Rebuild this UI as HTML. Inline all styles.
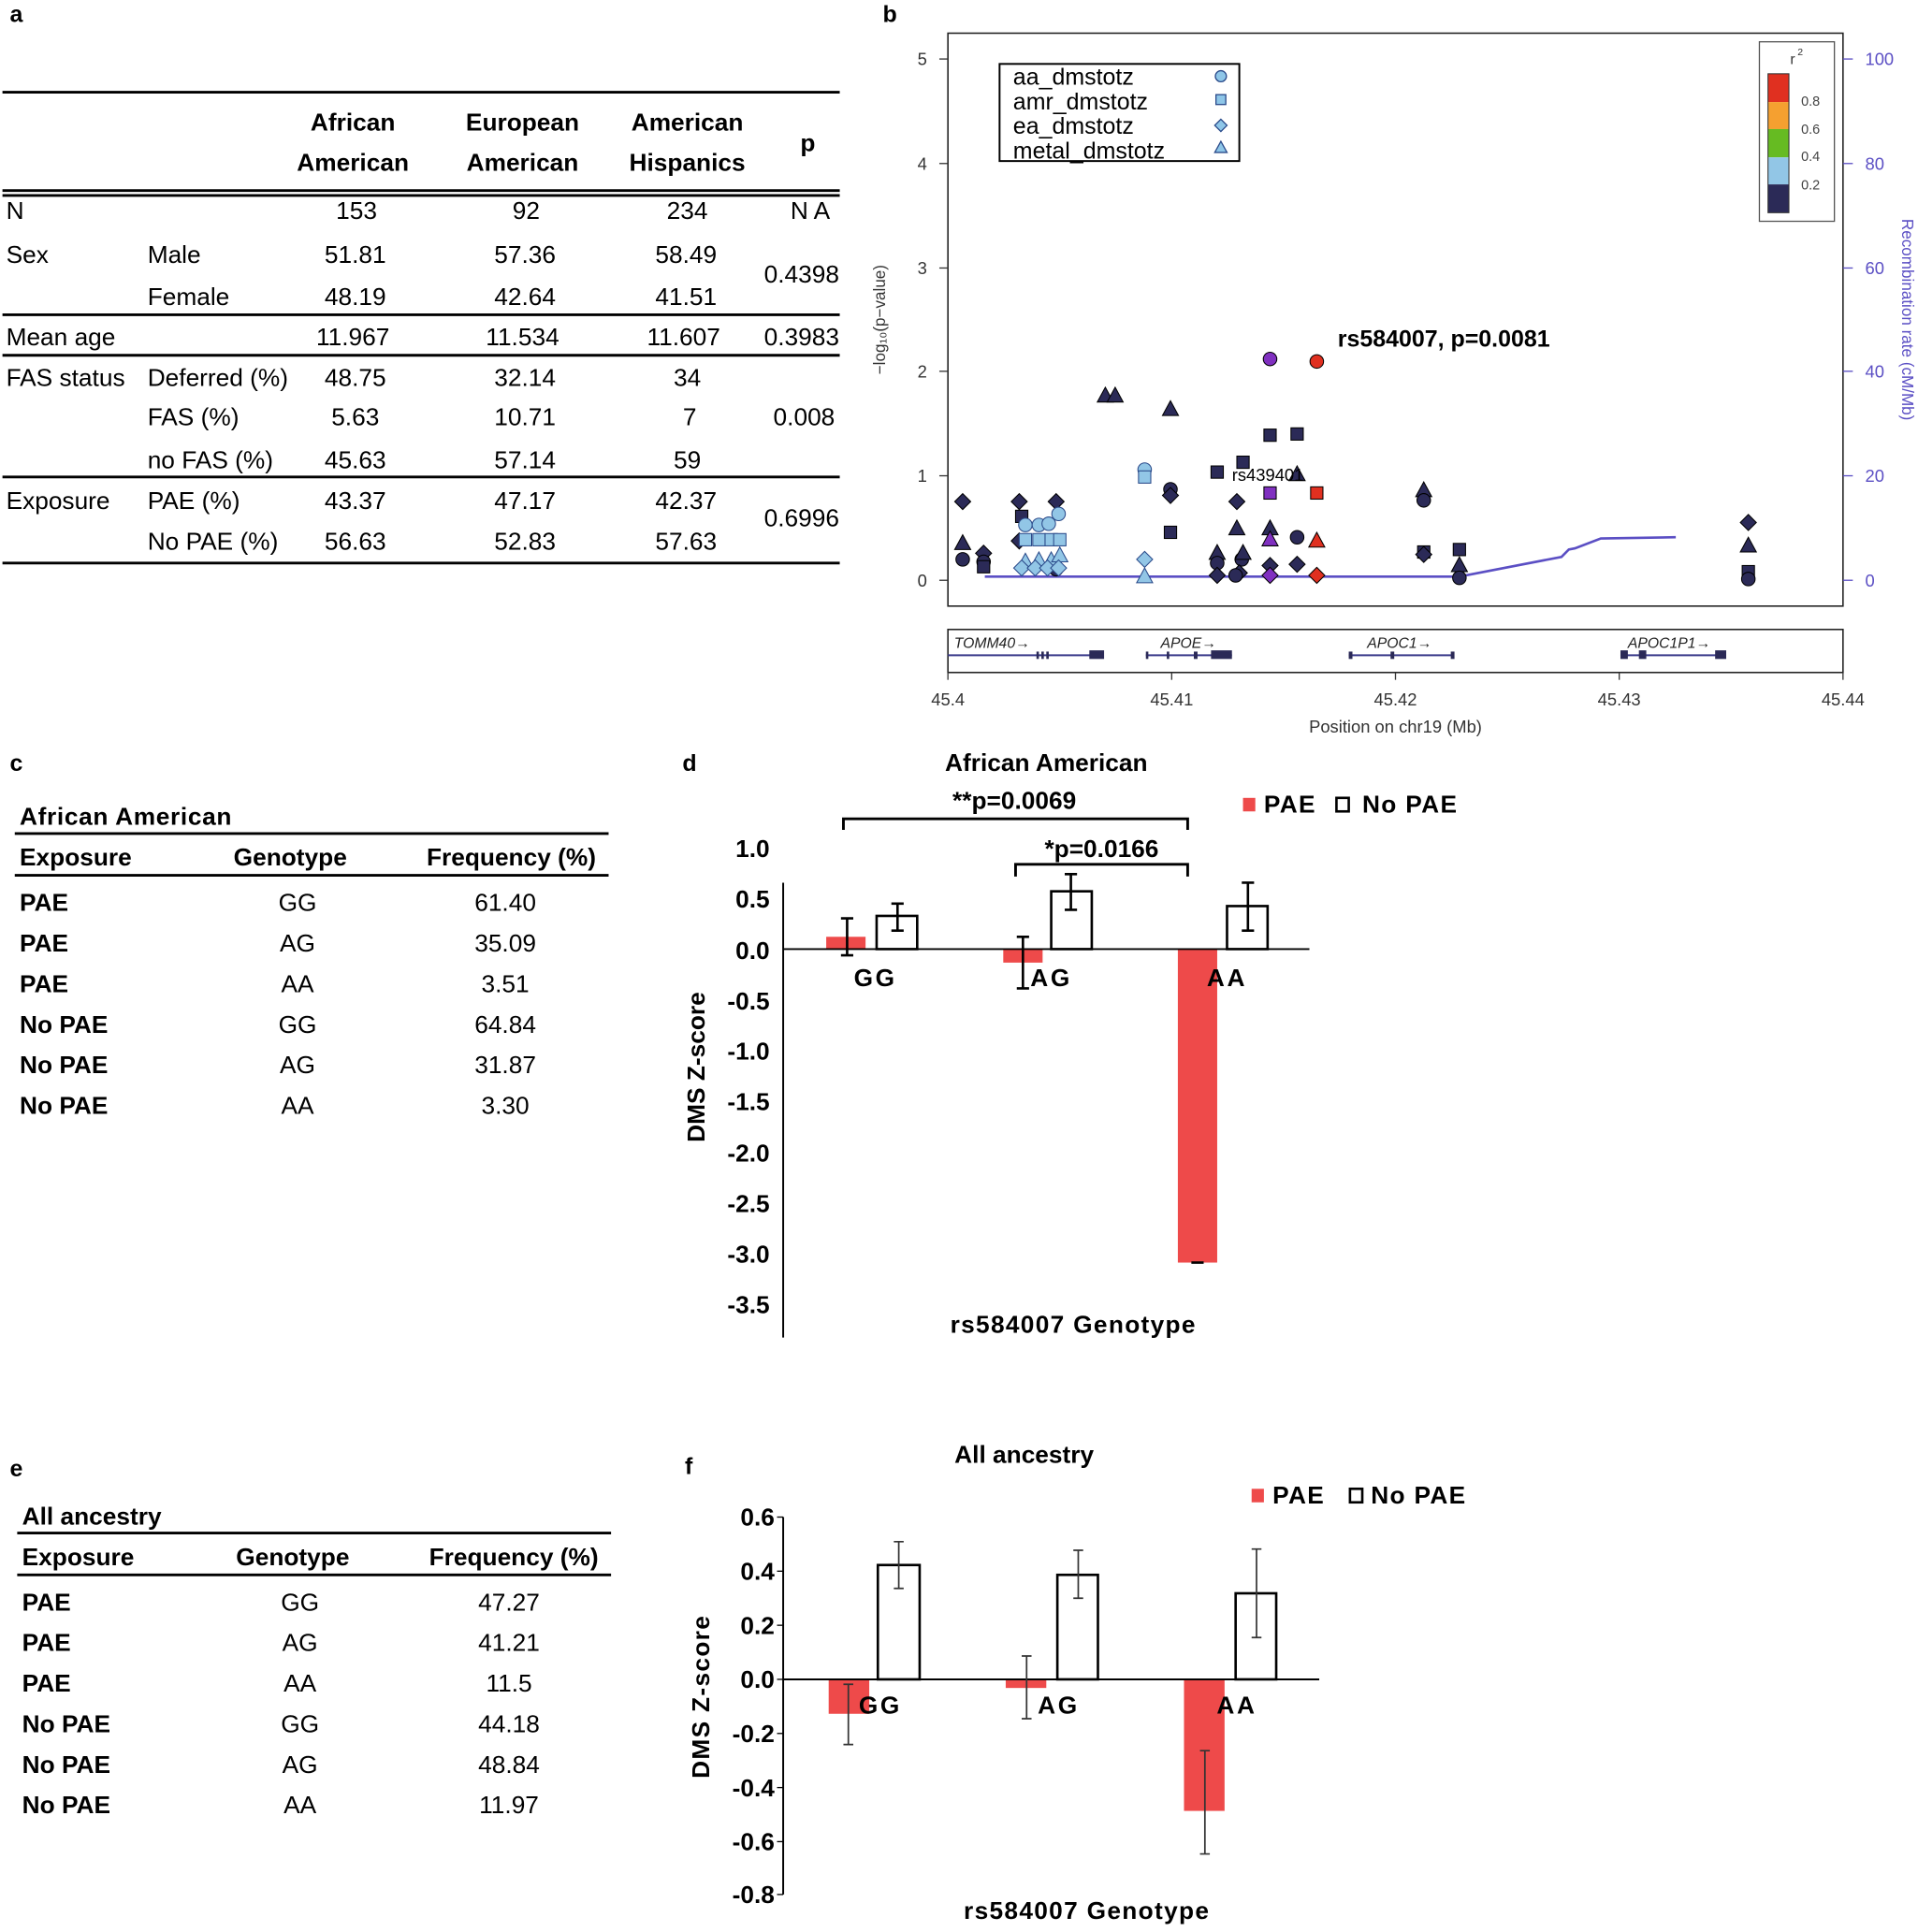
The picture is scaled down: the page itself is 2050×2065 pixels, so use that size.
<!DOCTYPE html>
<html><head><meta charset="utf-8"><style>
html,body{margin:0;padding:0;background:#fff;}
svg{display:block;}
text{font-family:"Liberation Sans",Arial,sans-serif;}
</style></head><body>
<svg width="2050" height="2065" viewBox="0 0 1560 1571.5" preserveAspectRatio="none" xmlns="http://www.w3.org/2000/svg">
<defs>
<circle id="c" r="5.5"/>
<rect id="s" x="-5" y="-5" width="10" height="10"/>
<path id="d" d="M0,-6.5 L6.5,0 L0,6.5 L-6.5,0Z"/>
<path id="t" d="M0,-7 L6.5,5 L-6.5,5Z"/>
</defs>

<!-- Panel labels -->
<g font-weight="bold" font-size="19">
<text x="8" y="18">a</text><text x="718" y="18">b</text>
<text x="8" y="627">c</text><text x="555" y="627">d</text>
<text x="8" y="1201">e</text><text x="557" y="1199">f</text>
</g>

<!-- Panel a -->
<g stroke="#000" stroke-width="2.2">
<line x1="2" y1="75" x2="683" y2="75"/>
<line x1="2" y1="155" x2="683" y2="155"/>
<line x1="2" y1="159" x2="683" y2="159"/>
<line x1="2" y1="256" x2="683" y2="256"/>
<line x1="2" y1="289" x2="683" y2="289"/>
<line x1="2" y1="388" x2="683" y2="388"/>
<line x1="2" y1="458" x2="683" y2="458"/>
</g>
<g font-size="20" font-weight="bold" text-anchor="middle">
<text x="287" y="106">African</text><text x="287" y="139">American</text>
<text x="425" y="106">European</text><text x="425" y="139">American</text>
<text x="559" y="106">American</text><text x="559" y="139">Hispanics</text>
<text x="657" y="123">p</text>
</g>
<g font-size="20">
<text x="5" y="178">N</text>
<text x="5" y="214">Sex</text><text x="120" y="214">Male</text><text x="120" y="248">Female</text>
<text x="5" y="281">Mean age</text>
<text x="5" y="314">FAS status</text><text x="120" y="314">Deferred (%)</text>
<text x="120" y="346">FAS (%)</text><text x="120" y="381">no FAS (%)</text>
<text x="5" y="414">Exposure</text><text x="120" y="414">PAE (%)</text><text x="120" y="447">No PAE (%)</text>
</g>
<g font-size="20" text-anchor="middle">
<text x="290" y="178">153</text><text x="428" y="178">92</text><text x="559" y="178">234</text><text x="659" y="178">N A</text>
<text x="289" y="214">51.81</text><text x="427" y="214">57.36</text><text x="558" y="214">58.49</text>
<text x="289" y="248">48.19</text><text x="427" y="248">42.64</text><text x="558" y="248">41.51</text>
<text x="652" y="230">0.4398</text>
<text x="287" y="281">11.967</text><text x="425" y="281">11.534</text><text x="556" y="281">11.607</text><text x="652" y="281">0.3983</text>
<text x="289" y="314">48.75</text><text x="427" y="314">32.14</text><text x="559" y="314">34</text>
<text x="289" y="346">5.63</text><text x="427" y="346">10.71</text><text x="561" y="346">7</text><text x="654" y="346">0.008</text>
<text x="289" y="381">45.63</text><text x="427" y="381">57.14</text><text x="559" y="381">59</text>
<text x="289" y="414">43.37</text><text x="427" y="414">47.17</text><text x="558" y="414">42.37</text>
<text x="289" y="447">56.63</text><text x="427" y="447">52.83</text><text x="558" y="447">57.63</text>
<text x="652" y="428">0.6996</text>
</g>

<!-- Panel b -->
<rect x="771" y="27" width="728" height="466" fill="none" stroke="#222" stroke-width="1.2"/>
<g stroke="#333" stroke-width="1">
<line x1="771" y1="48" x2="764" y2="48"/><line x1="771" y1="133" x2="764" y2="133"/>
<line x1="771" y1="218" x2="764" y2="218"/><line x1="771" y1="302" x2="764" y2="302"/>
<line x1="771" y1="387" x2="764" y2="387"/><line x1="771" y1="472" x2="764" y2="472"/>
</g>
<g font-size="14" fill="#333" text-anchor="end">
<text x="754" y="53">5</text><text x="754" y="138">4</text><text x="754" y="223">3</text>
<text x="754" y="307">2</text><text x="754" y="392">1</text><text x="754" y="477">0</text>
</g>
<text transform="translate(720,260) rotate(-90)" font-size="13" fill="#333" text-anchor="middle">−log₁₀(p−value)</text>
<g stroke="#5b4fc4" stroke-width="1">
<line x1="1499" y1="48" x2="1507" y2="48"/><line x1="1499" y1="133" x2="1507" y2="133"/>
<line x1="1499" y1="218" x2="1507" y2="218"/><line x1="1499" y1="302" x2="1507" y2="302"/>
<line x1="1499" y1="387" x2="1507" y2="387"/><line x1="1499" y1="472" x2="1507" y2="472"/>
</g>
<g font-size="14" fill="#5b4fc4">
<text x="1517" y="53">100</text><text x="1517" y="138">80</text><text x="1517" y="223">60</text>
<text x="1517" y="307">40</text><text x="1517" y="392">20</text><text x="1517" y="477">0</text>
</g>
<text transform="translate(1547,260) rotate(90)" font-size="13" fill="#5b4fc4" text-anchor="middle">Recombination rate (cM/Mb)</text>
<!-- legend -->
<rect x="813" y="52" width="195" height="79" fill="#fff" stroke="#000" stroke-width="1.5"/>
<g font-size="19" fill="#000">
<text x="824" y="69">aa_dmstotz</text><text x="824" y="89">amr_dmstotz</text>
<text x="824" y="109">ea_dmstotz</text><text x="824" y="129">metal_dmstotz</text>
</g>
<g fill="#8ec6e8" stroke="#2a4a8a" stroke-width="1">
<circle cx="993" cy="62" r="4.5"/><rect x="989" y="77" width="8" height="8"/>
<path d="M993,97 L998,102 L993,107 L988,102Z"/><path d="M993,115 L998,124 L988,124Z"/>
</g>
<!-- colorbar -->
<rect x="1431" y="34" width="61" height="146" fill="#fff" stroke="#555" stroke-width="1"/>
<text x="1456" y="52" font-size="12" fill="#333">r</text><text x="1462" y="45" font-size="8" fill="#333">2</text>
<rect x="1438" y="60" width="17" height="23" fill="#e03020"/>
<rect x="1438" y="83" width="17" height="22" fill="#f5a030"/>
<rect x="1438" y="105" width="17" height="23" fill="#66bb22"/>
<rect x="1438" y="128" width="17" height="22" fill="#92c6e6"/>
<rect x="1438" y="150" width="17" height="23" fill="#2b2a57"/>
<rect x="1438" y="60" width="17" height="113" fill="none" stroke="#333" stroke-width="0.8"/>
<g font-size="11" fill="#444">
<text x="1465" y="86">0.8</text><text x="1465" y="109">0.6</text><text x="1465" y="131">0.4</text><text x="1465" y="154">0.2</text>
</g>
<!-- recomb line -->
<polyline points="801,469 1187,469 1270,453 1276,447 1281,446 1302,438 1363,437" fill="none" stroke="#5b4fc4" stroke-width="2"/>
<!-- points -->
<g fill="#2b2a57" stroke="#000" stroke-width="0.8">
<use href="#d" x="783" y="408"/><use href="#t" x="783" y="442"/><use href="#c" x="783" y="455"/>
<use href="#d" x="800" y="450"/><use href="#c" x="800" y="457"/><use href="#s" x="800" y="461"/>
<use href="#d" x="829" y="408"/><use href="#s" x="831" y="420"/><use href="#d" x="829" y="440"/>
<use href="#d" x="859" y="408"/><use href="#c" x="859" y="463"/>
<use href="#t" x="899" y="322"/><use href="#t" x="907" y="322"/>
<use href="#t" x="952" y="333"/><use href="#c" x="952" y="398"/><use href="#d" x="952" y="403"/><use href="#s" x="952" y="433"/>
<use href="#s" x="990" y="384"/><use href="#t" x="990" y="450"/><use href="#c" x="990" y="458"/><use href="#d" x="990" y="468"/>
<use href="#d" x="1006" y="408"/><use href="#t" x="1006" y="430"/><use href="#c" x="1010" y="455"/><use href="#d" x="1008" y="466"/><use href="#c" x="1005" y="468"/>
<use href="#s" x="1011" y="376"/><use href="#t" x="1011" y="450"/>
<use href="#s" x="1033" y="354"/><use href="#t" x="1033" y="430"/><use href="#d" x="1033" y="460"/>
<use href="#s" x="1055" y="353"/><use href="#t" x="1055" y="386"/><use href="#c" x="1055" y="437"/><use href="#d" x="1055" y="459"/>
<use href="#t" x="1158" y="399"/><use href="#c" x="1158" y="407"/><use href="#s" x="1158" y="449"/><use href="#d" x="1158" y="451"/>
<use href="#s" x="1187" y="447"/><use href="#t" x="1187" y="460"/><use href="#c" x="1187" y="470"/>
<use href="#d" x="1422" y="425"/><use href="#t" x="1422" y="444"/><use href="#s" x="1422" y="465"/><use href="#c" x="1422" y="471"/>
</g>
<g fill="#92c6e6" stroke="#2a4a8a" stroke-width="0.8">
<use href="#c" x="834" y="427"/><use href="#c" x="845" y="427"/><use href="#c" x="853" y="426"/><use href="#c" x="861" y="418"/>
<use href="#s" x="834" y="439"/><use href="#s" x="845" y="439"/><use href="#s" x="855" y="439"/><use href="#s" x="862" y="439"/>
<use href="#t" x="834" y="457"/><use href="#t" x="845" y="456"/><use href="#t" x="855" y="456"/><use href="#t" x="862" y="452"/>
<use href="#d" x="831" y="462"/><use href="#d" x="842" y="462"/><use href="#d" x="852" y="462"/><use href="#d" x="861" y="462"/>
<use href="#c" x="931" y="382"/><use href="#s" x="931" y="388"/><use href="#d" x="931" y="455"/><use href="#t" x="931" y="469"/>
</g>
<g fill="#8030c0" stroke="#000" stroke-width="0.8">
<use href="#c" x="1033" y="292"/><use href="#s" x="1033" y="401"/><use href="#t" x="1033" y="439"/><use href="#d" x="1033" y="468"/>
</g>
<g fill="#e03020" stroke="#000" stroke-width="0.8">
<use href="#c" x="1071" y="294"/><use href="#s" x="1071" y="401"/><use href="#t" x="1071" y="440"/><use href="#d" x="1071" y="468"/>
</g>
<text x="1088" y="282" font-size="19" font-weight="bold">rs584007, p=0.0081</text>
<text x="1002" y="391" font-size="14">rs439401</text>
<!-- gene track -->
<rect x="771" y="512" width="728" height="35" fill="none" stroke="#222" stroke-width="1.2"/>
<g font-size="12" font-style="italic" fill="#222">
<text x="776" y="527">TOMM40→</text><text x="944" y="527">APOE→</text>
<text x="1112" y="527">APOC1→</text><text x="1324" y="527">APOC1P1→</text>
</g>
<g stroke="#3a3a8a" stroke-width="1.5">
<line x1="771" y1="533" x2="897" y2="533"/><line x1="932" y1="533" x2="1002" y2="533"/>
<line x1="1097" y1="533" x2="1182" y2="533"/><line x1="1318" y1="533" x2="1403" y2="533"/>
</g>
<g fill="#2b2a57">
<rect x="843" y="530" width="2" height="6"/><rect x="847" y="530" width="2" height="6"/><rect x="851" y="530" width="2" height="6"/>
<rect x="886" y="529" width="12" height="7"/>
<rect x="932" y="530" width="2" height="6"/><rect x="949" y="530" width="2" height="6"/><rect x="971" y="530" width="3" height="6"/>
<rect x="985" y="529" width="17" height="7"/>
<rect x="1097" y="530" width="3" height="6"/><rect x="1131" y="530" width="3" height="6"/><rect x="1180" y="530" width="3" height="6"/>
<rect x="1318" y="529" width="6" height="7"/><rect x="1333" y="529" width="6" height="7"/><rect x="1395" y="529" width="9" height="7"/>
</g>
<g stroke="#333" stroke-width="1">
<line x1="771" y1="547" x2="771" y2="553"/><line x1="953" y1="547" x2="953" y2="553"/>
<line x1="1135" y1="547" x2="1135" y2="553"/><line x1="1317" y1="547" x2="1317" y2="553"/><line x1="1499" y1="547" x2="1499" y2="553"/>
</g>
<g font-size="14" fill="#333" text-anchor="middle">
<text x="771" y="574">45.4</text><text x="953" y="574">45.41</text><text x="1135" y="574">45.42</text>
<text x="1317" y="574">45.43</text><text x="1499" y="574">45.44</text>
<text x="1135" y="596">Position on chr19 (Mb)</text>
</g>

<!-- Panel c -->
<text x="16" y="671" font-size="20" font-weight="bold" letter-spacing="0.5">African American</text>
<line x1="12" y1="678" x2="495" y2="678" stroke="#000" stroke-width="2.2"/>
<line x1="12" y1="712" x2="495" y2="712" stroke="#000" stroke-width="2.2"/>
<g font-size="20" font-weight="bold">
<text x="16" y="704">Exposure</text><text x="190" y="704">Genotype</text><text x="347" y="704">Frequency (%)</text>
<text x="16" y="741">PAE</text><text x="16" y="774">PAE</text><text x="16" y="807">PAE</text>
<text x="16" y="840">No PAE</text><text x="16" y="873">No PAE</text><text x="16" y="906">No PAE</text>
</g>
<g font-size="20" text-anchor="middle">
<text x="242" y="741">GG</text><text x="242" y="774">AG</text><text x="242" y="807">AA</text>
<text x="242" y="840">GG</text><text x="242" y="873">AG</text><text x="242" y="906">AA</text>
<text x="411" y="741">61.40</text><text x="411" y="774">35.09</text><text x="411" y="807">3.51</text>
<text x="411" y="840">64.84</text><text x="411" y="873">31.87</text><text x="411" y="906">3.30</text>
</g>

<!-- Panel d -->
<text x="851" y="627" font-size="20" font-weight="bold" text-anchor="middle">African American</text>
<text x="825" y="658" font-size="20" font-weight="bold" text-anchor="middle">**p=0.0069</text>
<text x="896" y="697" font-size="20" font-weight="bold" text-anchor="middle">*p=0.0166</text>
<g fill="none" stroke="#000" stroke-width="2.2">
<polyline points="686,675 686,666 966,666 966,675"/>
<polyline points="826,713 826,703 966,703 966,713"/>
</g>
<rect x="1011" y="649" width="10" height="11" fill="#ee4a4a"/>
<text x="1028" y="661" font-size="20" font-weight="bold" letter-spacing="1">PAE</text>
<rect x="1087" y="649" width="10" height="11" fill="#fff" stroke="#000" stroke-width="2"/>
<text x="1108" y="661" font-size="20" font-weight="bold" letter-spacing="1">No PAE</text>
<g font-size="20" font-weight="bold" text-anchor="end">
<text x="626" y="697">1.0</text><text x="626" y="738">0.5</text><text x="626" y="780">0.0</text>
<text x="626" y="821">-0.5</text><text x="626" y="862">-1.0</text><text x="626" y="903">-1.5</text>
<text x="626" y="945">-2.0</text><text x="626" y="986">-2.5</text><text x="626" y="1027">-3.0</text><text x="626" y="1068">-3.5</text>
</g>
<text transform="translate(573,868) rotate(-90)" font-size="20" font-weight="bold" text-anchor="middle">DMS  Z-score</text>
<line x1="637" y1="718" x2="637" y2="1088" stroke="#000" stroke-width="1.5"/>
<rect x="672" y="762" width="32" height="10" fill="#ee4a4a"/>
<rect x="713" y="745" width="33" height="27" fill="#fff" stroke="#000" stroke-width="2"/>
<rect x="816" y="772" width="32" height="11" fill="#ee4a4a"/>
<rect x="855" y="725" width="33" height="47" fill="#fff" stroke="#000" stroke-width="2"/>
<rect x="958" y="772" width="32" height="255" fill="#ee4a4a"/>
<rect x="998" y="737" width="33" height="35" fill="#fff" stroke="#000" stroke-width="2"/>
<line x1="637" y1="772" x2="1065" y2="772" stroke="#000" stroke-width="1.5"/>
<g stroke="#000" stroke-width="2">
<path d="M689,747 V777 M684,747 H694 M684,777 H694"/>
<path d="M730,735 V757 M725,735 H735 M725,757 H735"/>
<path d="M832,762 V804 M827,762 H837 M827,804 H837"/>
<path d="M871,711 V740 M866,711 H876 M866,740 H876"/>
<path d="M1015,718 V757 M1010,718 H1020 M1010,757 H1020"/>
<path d="M969,1027 H979"/>
</g>
<g font-size="20" font-weight="bold" letter-spacing="2" text-anchor="middle">
<text x="712" y="802">GG</text><text x="855" y="802">AG</text><text x="998" y="802">AA</text>
</g>
<text x="873" y="1084" font-size="20" font-weight="bold" text-anchor="middle" letter-spacing="1">rs584007 Genotype</text>

<!-- Panel e -->
<text x="18" y="1240" font-size="20" font-weight="bold">All ancestry</text>
<line x1="14" y1="1247" x2="497" y2="1247" stroke="#000" stroke-width="2.2"/>
<line x1="14" y1="1281" x2="497" y2="1281" stroke="#000" stroke-width="2.2"/>
<g font-size="20" font-weight="bold">
<text x="18" y="1273">Exposure</text><text x="192" y="1273">Genotype</text><text x="349" y="1273">Frequency (%)</text>
<text x="18" y="1310">PAE</text><text x="18" y="1343">PAE</text><text x="18" y="1376">PAE</text>
<text x="18" y="1409">No PAE</text><text x="18" y="1442">No PAE</text><text x="18" y="1475">No PAE</text>
</g>
<g font-size="20" text-anchor="middle">
<text x="244" y="1310">GG</text><text x="244" y="1343">AG</text><text x="244" y="1376">AA</text>
<text x="244" y="1409">GG</text><text x="244" y="1442">AG</text><text x="244" y="1475">AA</text>
<text x="414" y="1310">47.27</text><text x="414" y="1343">41.21</text><text x="414" y="1376">11.5</text>
<text x="414" y="1409">44.18</text><text x="414" y="1442">48.84</text><text x="414" y="1475">11.97</text>
</g>

<!-- Panel f -->
<text x="833" y="1190" font-size="20" font-weight="bold" text-anchor="middle">All ancestry</text>
<rect x="1018" y="1211" width="10" height="11" fill="#ee4a4a"/>
<text x="1035" y="1223" font-size="20" font-weight="bold" letter-spacing="1">PAE</text>
<rect x="1098" y="1211" width="10" height="11" fill="#fff" stroke="#000" stroke-width="2"/>
<text x="1115" y="1223" font-size="20" font-weight="bold" letter-spacing="1">No PAE</text>
<g font-size="20" font-weight="bold" text-anchor="end">
<text x="630" y="1241">0.6</text><text x="630" y="1285">0.4</text><text x="630" y="1329">0.2</text>
<text x="630" y="1373">0.0</text><text x="630" y="1417">-0.2</text><text x="630" y="1461">-0.4</text>
<text x="630" y="1505">-0.6</text><text x="630" y="1548">-0.8</text>
</g>
<text transform="translate(577,1380) rotate(-90)" font-size="20" font-weight="bold" text-anchor="middle" letter-spacing="1">DMS  Z-score</text>
<line x1="637" y1="1234" x2="637" y2="1541" stroke="#000" stroke-width="1.5"/>
<g stroke="#000" stroke-width="1">
<line x1="632" y1="1234" x2="637" y2="1234"/><line x1="632" y1="1278" x2="637" y2="1278"/>
<line x1="632" y1="1322" x2="637" y2="1322"/><line x1="632" y1="1366" x2="637" y2="1366"/>
<line x1="632" y1="1410" x2="637" y2="1410"/><line x1="632" y1="1454" x2="637" y2="1454"/>
<line x1="632" y1="1498" x2="637" y2="1498"/><line x1="632" y1="1541" x2="637" y2="1541"/>
</g>
<rect x="674" y="1366" width="33" height="28" fill="#ee4a4a"/>
<rect x="714" y="1273" width="34" height="93" fill="#fff" stroke="#000" stroke-width="2"/>
<rect x="818" y="1366" width="33" height="7" fill="#ee4a4a"/>
<rect x="860" y="1281" width="33" height="85" fill="#fff" stroke="#000" stroke-width="2"/>
<rect x="963" y="1366" width="33" height="107" fill="#ee4a4a"/>
<rect x="1005" y="1296" width="33" height="70" fill="#fff" stroke="#000" stroke-width="2"/>
<line x1="637" y1="1366" x2="1073" y2="1366" stroke="#000" stroke-width="1.5"/>
<g stroke="#333" stroke-width="1.3">
<path d="M690,1370 V1419 M686,1370 H694 M686,1419 H694"/>
<path d="M731,1254 V1292 M727,1254 H735 M727,1292 H735"/>
<path d="M835,1347 V1398 M831,1347 H839 M831,1398 H839"/>
<path d="M877,1261 V1300 M873,1261 H881 M873,1300 H881"/>
<path d="M980,1424 V1508 M976,1424 H984 M976,1508 H984"/>
<path d="M1022,1260 V1332 M1018,1260 H1026 M1018,1332 H1026"/>
</g>
<g font-size="20" font-weight="bold" letter-spacing="2" text-anchor="middle">
<text x="716" y="1394">GG</text><text x="861" y="1394">AG</text><text x="1006" y="1394">AA</text>
</g>
<text x="884" y="1561" font-size="20" font-weight="bold" text-anchor="middle" letter-spacing="1">rs584007 Genotype</text>
</svg>
</body></html>
